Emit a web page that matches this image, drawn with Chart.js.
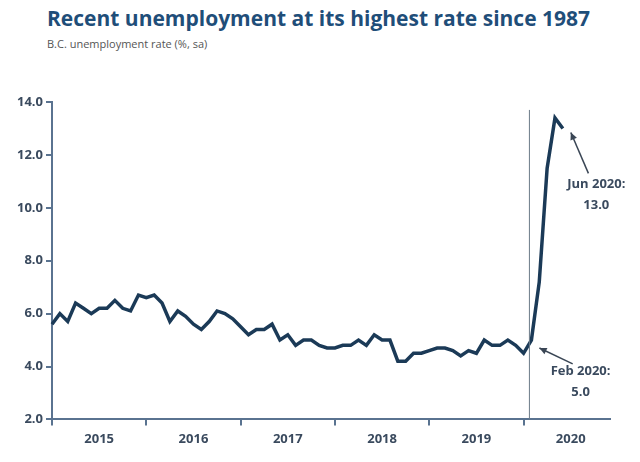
<!DOCTYPE html>
<html><head><meta charset="utf-8">
<script src="https://cdn.jsdelivr.net/npm/chart.js@4"></script>
<style>html,body{margin:0;padding:0;background:#fff;font-family:"Open Sans"}
#h{height:60px;padding-left:47px;box-sizing:border-box}
#t{font-size:21px;font-weight:bold;color:#1f4e79;padding-top:4px;line-height:28px}
#s{font-size:11px;color:#555;margin-top:4px}
#w{width:640px;height:402px}</style>
</head><body><div id="h"><div id="t">Recent unemployment at its highest rate since 1987</div><div id="s">B.C. unemployment rate (%, sa)</div></div>
<div id="w"><canvas id="c"></canvas></div>
<script>
const years=[2015,2016,2017,2018,2019,2020];
const monthNames=['Jan','Feb','Mar','Apr','May','Jun','Jul','Aug','Sep','Oct','Nov','Dec'];
const rate2015=[5.6,6.0,5.7,6.4,6.2,6.0,6.2,6.2,6.5,6.2,6.1,6.7];
const rate2016=[6.6,6.7,6.4,5.7,6.1,5.9,5.6,5.4,5.7,6.1,6.0,5.8];
const rate2017=[5.5,5.2,5.4,5.4,5.6,5.0,5.2,4.8,5.0,5.0,4.8,4.7];
const rate2018=[4.7,4.8,4.8,5.0,4.8,5.2,5.0,5.0,4.2,4.2,4.5,4.5];
const rate2019=[4.6,4.7,4.7,4.6,4.4,4.6,4.5,5.0,4.8,4.8,5.0,4.8];
const rate2020=[4.5,5.0,7.2,11.5,13.4,13.0];
const yTicks=[2,4,6,8,10,12,14];
const labels=[];years.forEach(y=>monthNames.forEach(m=>labels.push(m+' '+y)));
const values=[...rate2015,...rate2016,...rate2017,...rate2018,...rate2019,...rate2020];
while(values.length<labels.length)values.push(null);
const notes=[{label:'Feb 2020',text:['Feb 2020:','5.0'],tx:'Aug 2020',ty:3.8,ax:'Jul 2020',ay:4.1},
             {label:'Jun 2020',text:['Jun 2020:','13.0'],tx:'Oct 2020',ty:10.9,ax:'Sep 2020',ay:11.3}];
const navy='#1b3a57',txt='#3a4a5e';
const annot={id:'annot',afterDatasetsDraw(ch){
  const {ctx,scales:{x,y},chartArea:a}=ch;ctx.save();
  const vx=x.getPixelForValue(labels.indexOf('Feb 2020'))-2;
  ctx.strokeStyle='#6b7a88';ctx.lineWidth=1;ctx.beginPath();ctx.moveTo(vx,y.getPixelForValue(13.7));ctx.lineTo(vx,a.bottom);ctx.stroke();
  notes.forEach(n=>{
    const i=labels.indexOf(n.label),px=x.getPixelForValue(i)+4,py=y.getPixelForValue(values[i])+ (n.label==='Feb 2020'?4:-4);
    const sx=x.getPixelForValue(labels.indexOf(n.ax))+2,sy=y.getPixelForValue(n.ay);
    const ex=px+4,ey=n.label==='Feb 2020'?py+4:py+8;
    ctx.strokeStyle='#3a4655';ctx.fillStyle='#3a4655';ctx.lineWidth=1.5;
    ctx.beginPath();ctx.moveTo(sx,sy);ctx.lineTo(ex,ey);ctx.stroke();
    const ang=Math.atan2(ey-sy,ex-sx);
    ctx.beginPath();ctx.moveTo(ex,ey);ctx.lineTo(ex-8*Math.cos(ang-0.45),ey-8*Math.sin(ang-0.45));ctx.lineTo(ex-8*Math.cos(ang+0.45),ey-8*Math.sin(ang+0.45));ctx.closePath();ctx.fill();
    const tx=x.getPixelForValue(labels.indexOf(n.tx))+2,ty=y.getPixelForValue(n.ty);
    ctx.fillStyle=txt;ctx.font='bold 13px "Open Sans"';ctx.textAlign='center';ctx.textBaseline='middle';
    ctx.fillText(n.text[0],tx,ty);ctx.fillText(n.text[1],tx,ty+21);
  });
  ctx.restore();}};
new Chart(document.getElementById('c'),{type:'line',
 data:{labels,datasets:[{data:values,borderColor:navy,borderWidth:3.5,pointRadius:0,tension:0,spanGaps:false}]},
 options:{responsive:true,maintainAspectRatio:false,animation:false,
  layout:{padding:{left:14,right:30,top:42,bottom:9}},
  plugins:{legend:{display:false},tooltip:{enabled:false}},
  scales:{
   x:{offset:false,grid:{drawOnChartArea:false,tickLength:6,tickColor:c=>(c.index%12===0?'#5a7390':'rgba(0,0,0,0)'),lineWidth:2},
      border:{color:'#5a7390',width:2},
      ticks:{autoSkip:false,maxRotation:0,color:txt,font:{family:'Open Sans',size:13,weight:'bold'},padding:6,
             callback:(v,i)=>(i%12===6?labels[i].slice(4):'')}},
   y:{min:2,max:14,afterBuildTicks:s=>{s.ticks=yTicks.map(v=>({value:v}));},
      grid:{drawOnChartArea:false,tickLength:6,tickColor:'#5a7390',lineWidth:2},border:{color:'#5a7390',width:2},
      ticks:{color:txt,font:{family:'Open Sans',size:13,weight:'bold'},callback:v=>v.toFixed(1)}}}},
 plugins:[annot]});
</script></body></html>
